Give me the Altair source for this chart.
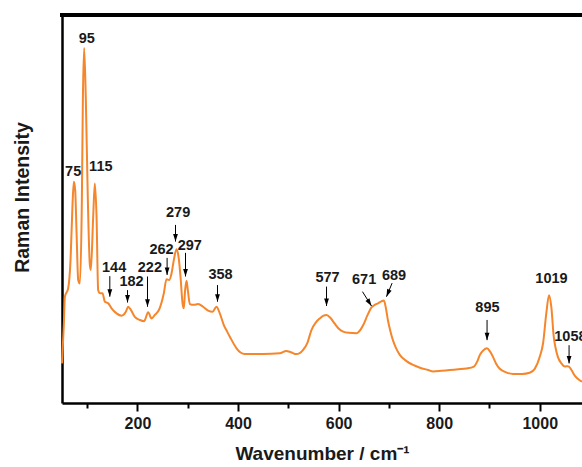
import altair as alt
import pandas as pd

# Spectrum
wavenumber = [50, 53.7, 55.7, 62.2, 67, 71, 73.6, 76.2, 79, 82.2, 85.5, 89.5, 91.5, 94, 97.4,
              101.4, 105.4, 107.4, 112, 115.3, 118.7, 121.9, 125.2, 130.5, 135.2, 141.8, 148.5,
              158.4, 168.4, 177, 181.6, 186.9, 194.8, 204.8, 213.3, 221.3, 228, 234.6, 243.2,
              252.5, 257.8, 263, 267.8, 272.4, 277.7, 281.7, 285.7, 289.7, 292.2, 294.8, 297.6,
              300.2, 304.2, 312.1, 320.7, 330.6, 340.6, 349.3, 357.2, 363.8, 371.8, 378.4, 383.7,
              397, 405, 413.5, 450, 483, 496, 505, 516, 529.5, 538, 546, 555, 562.6, 570, 576,
              584, 592, 600, 609, 620, 635.6, 643, 649, 657, 665, 672, 678.6, 685, 690, 694, 698,
              703, 708, 714, 721.7, 735, 748, 762, 778, 788, 805, 821, 838, 854, 869, 876, 881,
              888, 895, 901, 907, 913, 920, 933, 947, 965, 980, 990, 1000, 1006.6, 1013, 1018.5,
              1023, 1027.8, 1031, 1036, 1043, 1050, 1055, 1058, 1063, 1070, 1078, 1084]
intensity = [10.2, 20.5, 27.4, 29.5, 36.9, 51.5, 57.0, 54.9, 43.7, 31.7, 30.8, 52.3, 78.1, 91.5, 78.1,
             52.3, 35.6, 34.3, 48.0, 56.6, 48.0, 29.1, 28.3, 28.3, 26.1, 25.7, 24.4,
             23.1, 22.5, 23.5, 24.8, 24.0, 22.2, 21.4, 21.1, 23.4, 21.8, 22.7, 24.1,
             28.3, 31.9, 31.7, 33.4, 36.9, 39.6, 37.7, 32.5, 25.7, 24.4, 29.1, 31.5,
             29.1, 25.5, 25.3, 25.5, 24.8, 23.8, 23.5, 24.8, 23.1, 20.1, 18.4, 17.1,
             14.1, 13.0, 12.6, 12.6, 12.8, 13.4, 13.1, 12.6, 13.7, 15.5, 18.8, 20.8, 21.8, 22.5, 22.7,
             21.9, 20.5, 19.2, 18.4, 18.1, 18.0, 18.8, 20.1, 22.5, 24.6, 25.3, 25.7, 26.2, 26.4, 24.5, 21.4,
             18.5, 16.2, 14.2, 12.4, 10.8, 9.8, 9.1, 8.5, 8.1, 8.3, 8.5, 8.7, 8.9, 9.4, 10.8, 12.4,
             13.6, 14.1, 13.3, 11.9, 10.2, 8.9, 7.9, 7.5, 7.5, 7.8, 8.8, 11.9, 15.4, 23.1, 27.8,
             24.8, 17.1, 14.5, 11.9, 10.2, 9.4, 9.5, 9.4, 8.5, 7.0, 6.0, 5.5]

# Peak annotations
peak_labels = ["95", "75", "115", "144", "182", "222", "262", "279", "297", "358",
               "577", "671", "689", "895", "1019", "1058"]
label_x = [99.4, 72.2, 127.2, 153.7, 188.3, 224.7, 247.9, 280.9, 304.2, 365.2,
           578.0, 650.7, 710.3, 896.0, 1023.3, 1061.0]
label_y = [93.8, 59.6, 60.9, 34.7, 31.1, 34.7, 39.4, 48.9, 40.5, 33.0,
           32.1, 31.7, 32.8, 24.4, 31.9, 16.9]

# Arrows (start -> tip), for labelled peaks that carry an arrow
arrow_x1 = [145.1, 180.3, 220.0, 259.0, 275.7, 295.6, 359.2, 576.0, 647.5, 706.4, 895.2, 1058.3]
arrow_y1 = [32.7, 29.1, 32.6, 37.4, 45.9, 38.7, 30.4, 30.0, 28.7, 30.9, 21.4, 14.9]
arrow_x2 = [145.1, 180.3, 220.0, 259.0, 275.7, 295.6, 359.2, 576.0, 665.4, 695.2, 895.2, 1058.3]
arrow_y2 = [27.4, 25.9, 24.8, 33.0, 41.6, 32.6, 26.1, 25.0, 25.0, 27.4, 16.2, 10.2]
arrow_angle = [0, 0, 0, 0, 0, 0, 0, 0, 327.8, 22.7, 0, 0]

spec = pd.DataFrame({"w": wavenumber, "i": intensity})
labels = pd.DataFrame({"t": peak_labels, "x": label_x, "y": label_y})
arrows = pd.DataFrame({"x1": arrow_x1, "y1": arrow_y1, "x2": arrow_x2, "y2": arrow_y2,
                       "a": arrow_angle})

FONT = "Liberation Sans"
xscale = alt.Scale(domain=[50, 1084], nice=False, zero=False)
yscale = alt.Scale(domain=[0, 100], nice=False, zero=False)

xaxis = alt.Axis(
    values=list(range(100, 1100, 100)),
    format="d",
    labelExpr="datum.value % 200 === 0 ? datum.label : ''",
    tickSize={"condition": {"test": "datum.value % 200 === 0", "value": 8}, "value": 5},
    tickWidth=2, tickColor="black",
    domainWidth=2.5, domainColor="black",
    labelFont=FONT, labelFontSize=16, labelFontWeight="bold", labelColor="#1a1a1a",
    labelPadding=4,
    title="Wavenumber / cm⁻¹", titleFont=FONT, titleFontSize=19, titleFontWeight="bold",
    titleColor="#1a1a1a", titlePadding=13, grid=False,
)
yaxis = alt.Axis(
    ticks=False, labels=False, grid=False,
    domainWidth=2.5, domainColor="black",
    title="Raman Intensity", titleFont=FONT, titleFontSize=19.5, titleFontWeight="bold",
    titleColor="#1a1a1a", titlePadding=30, titleY=182,
)

line = alt.Chart(spec).mark_line(color="#F5862B", strokeWidth=2, interpolate="monotone").encode(
    x=alt.X("w:Q", scale=xscale, axis=xaxis),
    y=alt.Y("i:Q", scale=yscale, axis=yaxis),
)

top_border = alt.Chart(spec).mark_rule(color="black", strokeWidth=2.5, strokeCap="square").encode(
    x=alt.value(0), x2=alt.value(520), y=alt.value(0)
)

shafts = alt.Chart(arrows).mark_rule(color="black", strokeWidth=1).encode(
    x="x1:Q", y="y1:Q", x2="x2:Q", y2="y2:Q"
)

heads = alt.Chart(arrows).mark_point(
    shape="M-2.4,-7.5L2.4,-7.5L0,0Z", size=4, filled=True, color="black", opacity=1, strokeWidth=0
).encode(
    x="x2:Q", y="y2:Q", angle=alt.Angle("a:Q", scale=None)
)

texts = alt.Chart(labels).mark_text(
    font=FONT, fontSize=14.5, fontWeight="bold", color="#1a1a1a", baseline="middle", align="center"
).encode(x="x:Q", y="y:Q", text="t:N")

chart = alt.layer(line, top_border, shafts, heads, texts).properties(
    width=520, height=388,
    autosize=alt.AutoSizeParams(type="none"),
    padding={"left": 62, "top": 15, "right": 0, "bottom": 64},
).configure_view(stroke=None)

chart.save("out.html", embed_options={"renderer": "svg", "actions": False})
